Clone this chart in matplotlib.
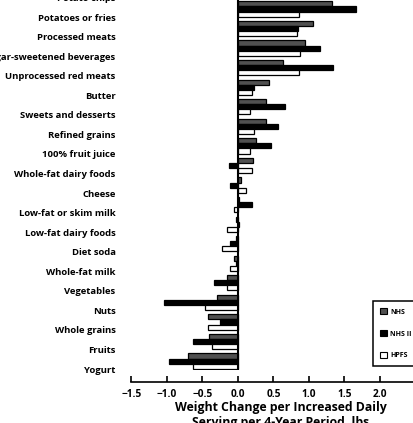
import matplotlib
matplotlib.use("Agg")
import matplotlib.pyplot as plt
from matplotlib.patches import Patch
from matplotlib.transforms import ScaledTranslation
import numpy as np

# food rows, top to bottom (potato chips row is cropped off the top in the reference)
FOODS = ["Potato chips", "Potatoes or fries", "Processed meats", "Sugar-sweetened beverages",
         "Unprocessed red meats", "Butter", "Sweets and desserts", "Refined grains",
         "100% fruit juice", "Whole-fat dairy foods", "Cheese", "Low-fat or skim milk",
         "Low-fat dairy foods", "Diet soda", "Whole-fat milk", "Vegetables", "Nuts",
         "Whole grains", "Fruits", "Yogurt"]
# lbs per increased daily serving, per 4-year period
NHS = [1.60, 1.33, 1.06, 0.94, 0.64, 0.43, 0.40, 0.40, 0.26, 0.21, 0.04, 0.02,
       -0.03, -0.03, -0.06, -0.16, -0.30, -0.42, -0.41, -0.70]
NHS2 = [2.05, 1.66, 0.84, 1.16, 1.34, 0.23, 0.66, 0.57, 0.47, -0.12, -0.11, 0.20,
        0.01, -0.11, -0.03, -0.34, -1.04, -0.25, -0.63, -0.97]
HPFS = [1.35, 0.86, 0.83, 0.87, 0.86, 0.20, 0.17, 0.23, 0.17, 0.20, 0.11, -0.05,
        -0.15, -0.22, -0.11, -0.16, -0.46, -0.42, -0.37, -0.64]
XTICKS = [-1.5, -1.0, -0.5, 0.0, 0.5, 1.0, 1.5, 2.0]
COHORTS = ["NHS", "NHS II", "HPFS"]
FACE = {"NHS": "#505050", "NHS II": "black", "HPFS": "white"}

plt.rcParams["font.family"] = ["Open Sans", "DejaVu Sans"]

fig = plt.figure(figsize=(4.14, 4.23), dpi=100)
ax = fig.add_axes([0.3176, 0.1255, 0.7203, 0.9272])

y = np.arange(len(FOODS))
h = 0.26
for k, (name, vals) in enumerate(zip(COHORTS, [NHS, NHS2, HPFS])):
    ax.barh(y + (k - 1) * h, vals, h, color=FACE[name], edgecolor="black", linewidth=0.9)
ax.axvline(0, color="black", lw=1.5)

ax.set_xlim(-1.5, 2.7)
ax.set_ylim(19.45, -0.6)
for s in ("left", "right", "top"):
    ax.spines[s].set_visible(False)
ax.spines["bottom"].set_position(("outward", 8.6))
ax.spines["bottom"].set_linewidth(1.2)

ax.set_xticks(XTICKS)
ax.tick_params(axis="x", direction="in", length=4, width=1.2, pad=5, labelsize=7.3)
ax.set_yticks(y, FOODS)
ax.tick_params(axis="y", length=0, pad=11.5, labelsize=6.8)
shift = ScaledTranslation(0, -0.08, fig.dpi_scale_trans)
for lab in ax.get_yticklabels():
    lab.set_transform(lab.get_transform() + shift)
    lab.set_fontweight("bold")
for lab in ax.get_xticklabels():
    lab.set_fontweight("bold")

ax.set_xlabel("Weight Change per Increased Daily\nServing per 4-Year Period, lbs",
              fontsize=8.8, fontweight="bold", labelpad=1)

handles = [Patch(facecolor=FACE[c], edgecolor="black", linewidth=0.8, label=c) for c in COHORTS]
leg = fig.legend(handles=handles, loc="upper left", mode="expand",
                 bbox_to_anchor=(0.8937, 0.1455, 0.2, 0.15), bbox_transform=fig.transFigure,
                 prop={"size": 5, "weight": "bold"}, handlelength=0.9, handleheight=0.9,
                 labelspacing=2.1, borderpad=1.0, handletextpad=0.5, fancybox=False,
                 framealpha=1)
leg.get_frame().set_edgecolor("black")
leg.get_frame().set_linewidth(1.1)

fig.savefig("out.png", dpi=100)
